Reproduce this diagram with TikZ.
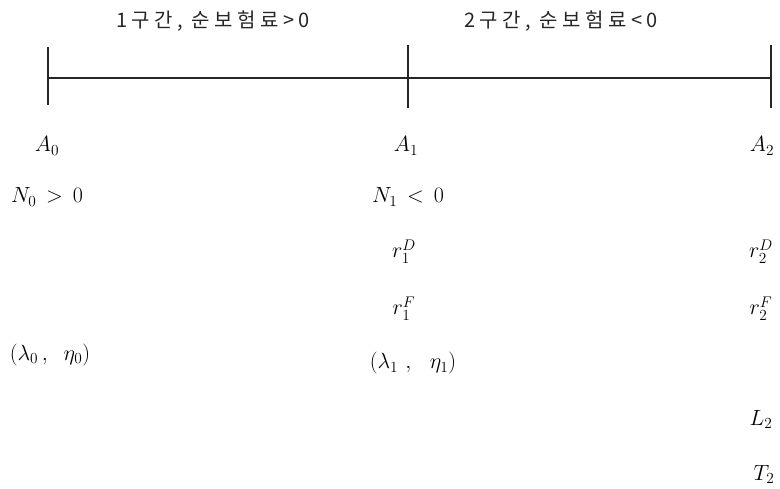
\RequirePackage{fix-cm}
\documentclass[tikz,border=0pt]{standalone}
\usepackage{fontspec}
\newfontfamily\kr[LetterSpace=22]{Noto Sans CJK KR}
\begin{document}
\begin{tikzpicture}[x=1pt,y=-1pt,
  axis/.style={line width=1.1pt,black!85},
  mth/.style={anchor=base,inner sep=0pt,font=\fontsize{22}{24}\selectfont},
  lbl/.style={inner sep=0pt,text=black!85,font=\kr\fontsize{20}{22}\selectfont}]
\useasboundingbox (0,0) rectangle (780,489);
% axis
\coordinate (L) at (48,78);
\coordinate (M) at (408,78);
\coordinate (R) at (771,78);
\coordinate (Lt) at (48,47);  \coordinate (Lb) at (48,105);
\coordinate (Mt) at (408,45); \coordinate (Mb) at (408,108);
\coordinate (Rt) at (771,45); \coordinate (Rb) at (771,108);
\draw[axis] (L) -- (R);
\draw[axis] (Lt) -- (Lb);
\draw[axis] (Mt) -- (Mb);
\draw[axis] (Rt) -- (Rb);
% interval labels
\node[lbl] (s1) at (213,21) {1구간, 순보험료>0};
\node[lbl] (s2) at (561,21) {2구간, 순보험료<0};
% time 0
\node[mth] (a0) at (47,152) {$A_0$};
\node[mth] (n0) at (47,203) {$N_0\,>\,0$};
\node[mth] (le0) at (50,360) {$(\lambda_0\mkern3mu,\mkern10mu\eta_0)$};
% time 1
\node[mth] (a1) at (406,152) {$A_1$};
\node[mth] (n1) at (408,203) {$N_1\,<\,0$};
\node[mth] (rd1) at (404,258) {$r_1^D$};
\node[mth] (rf1) at (404,315) {$r_1^F$};
\node[mth] (le1) at (413,369) {$(\lambda_1\mkern6mu,\mkern12mu\eta_1)$};
% time 2
\node[mth] (a2) at (762,152) {$A_2$};
\node[mth] (rd2) at (761,258) {$r_2^D$};
\node[mth] (rf2) at (761,315) {$r_2^F$};
\node[mth] (l2) at (761,425) {$L_2$};
\node[mth] (t2) at (764,480) {$T_2$};
\end{tikzpicture}
\end{document}
